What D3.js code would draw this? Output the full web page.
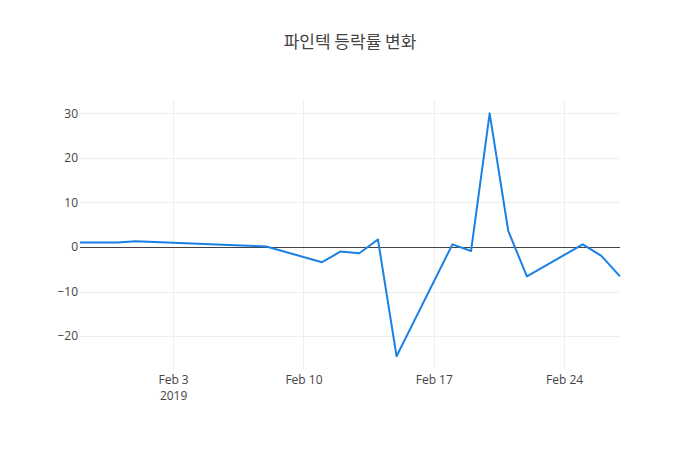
<!DOCTYPE html>
<html>
<head>
<meta charset="utf-8">
<script src="https://cdn.jsdelivr.net/npm/d3@7"></script>
<style>
  body { margin: 0; background: #fff; }
  svg { font-family: "Open Sans", "Noto Sans CJK KR", sans-serif; }
</style>
</head>
<body>
<div id="chart"></div>
<script>
// 파인텍 daily change (%)
const dates = [
    "2019-01-29", "2019-01-30", "2019-01-31", "2019-02-01", "2019-02-07", "2019-02-08",
    "2019-02-11", "2019-02-12", "2019-02-13", "2019-02-14", "2019-02-15",
    "2019-02-18", "2019-02-19", "2019-02-20", "2019-02-21", "2019-02-22",
    "2019-02-25", "2019-02-26", "2019-02-27"
];
const changes = [
    1.0, 1.0, 1.0, 1.3, 0.3, 0.1,
    -3.4, -1.0, -1.4, 1.7, -24.5,
    0.6, -0.9, 30.0, 3.6, -6.6,
    0.6, -2.0, -6.6
];
const yTicks = [-20, -10, 0, 10, 20, 30];
const xTicks = ["2019-02-03", "2019-02-10", "2019-02-17", "2019-02-24"];
const titleText = "파인텍 등락률 변화";

const W = 700, H = 450;
const margin = {top: 100, right: 80, bottom: 80, left: 80};
const LINE_COLOR = "#1a80e4";

const parse = d3.timeParse("%Y-%m-%d");
const data = dates.map((d, i) => ({date: parse(d), value: changes[i]}));

const x = d3.scaleTime()
    .domain(d3.extent(data, d => d.date))
    .range([margin.left, W - margin.right]);
const y = d3.scaleLinear()
    .domain([-27.6, 33.0])
    .range([H - margin.bottom, margin.top]);

const svg = d3.select("#chart").append("svg")
    .attr("width", W)
    .attr("height", H);

// grid
svg.append("g")
    .selectAll("line")
    .data(yTicks)
    .join("line")
    .attr("x1", margin.left)
    .attr("x2", W - margin.right)
    .attr("y1", d => Math.round(y(d)) + 0.5)
    .attr("y2", d => Math.round(y(d)) + 0.5)
    .attr("stroke", "#eee")
    .attr("stroke-width", 1);

svg.append("g")
    .selectAll("line")
    .data(xTicks.map(parse))
    .join("line")
    .attr("x1", d => Math.round(x(d)) + 0.5)
    .attr("x2", d => Math.round(x(d)) + 0.5)
    .attr("y1", margin.top)
    .attr("y2", H - margin.bottom)
    .attr("stroke", "#eee")
    .attr("stroke-width", 1);

// zero line
svg.append("line")
    .attr("x1", margin.left)
    .attr("x2", W - margin.right)
    .attr("y1", Math.round(y(0)) + 0.5)
    .attr("y2", Math.round(y(0)) + 0.5)
    .attr("stroke", "#444")
    .attr("stroke-width", 1);

// y axis labels
const yAxis = d3.axisLeft(y)
    .tickValues(yTicks)
    .tickSize(0)
    .tickPadding(2)
    .tickFormat(d => d < 0 ? "\u2212" + Math.abs(d) : d);
svg.append("g")
    .attr("transform", `translate(${margin.left},0)`)
    .call(yAxis)
    .call(g => g.select(".domain").remove())
    .call(g => g.selectAll("text")
        .attr("fill", "#444")
        .style("font-size", "12px")
        .style("font-family", "'Open Sans', sans-serif"));

// x axis labels
const fmt = d3.timeFormat("%b %-d");
const xAxis = d3.axisBottom(x)
    .tickValues(xTicks.map(parse))
    .tickSize(0)
    .tickPadding(5)
    .tickFormat(fmt);
const xg = svg.append("g")
    .attr("transform", `translate(0,${H - margin.bottom})`)
    .call(xAxis)
    .call(g => g.select(".domain").remove());
xg.selectAll("text")
    .attr("fill", "#444")
    .style("font-size", "12px")
    .style("font-family", "'Open Sans', sans-serif");
xg.selectAll(".tick")
    .filter((d, i) => i === 0)
    .append("text")
    .attr("fill", "#444")
    .attr("y", 21)
    .attr("dy", "0.71em")
    .attr("text-anchor", "middle")
    .style("font-size", "12px")
    .style("font-family", "'Open Sans', sans-serif")
    .text(d => d3.timeFormat("%Y")(d));

// line
const line = d3.line()
    .x(d => x(d.date))
    .y(d => y(d.value));
svg.append("path")
    .datum(data)
    .attr("fill", "none")
    .attr("stroke", LINE_COLOR)
    .attr("stroke-width", 2)
    .attr("stroke-linejoin", "round")
    .attr("d", line);

// title
svg.append("text")
    .attr("x", W / 2)
    .attr("y", 48)
    .attr("text-anchor", "middle")
    .attr("fill", "#444")
    .style("font-size", "17px")
    .style("font-family", "'Noto Sans CJK KR', 'Open Sans', sans-serif")
    .text(titleText);
</script>
</body>
</html>
